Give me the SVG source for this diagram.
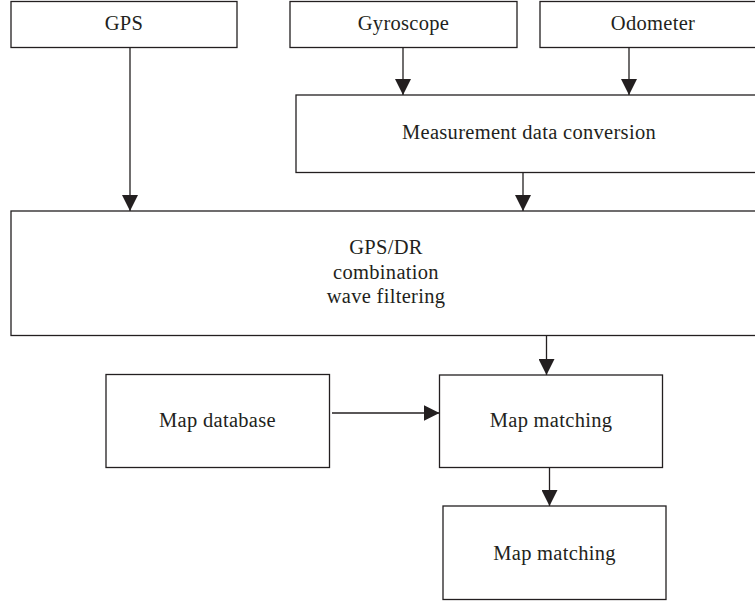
<svg xmlns="http://www.w3.org/2000/svg" width="755" height="604" viewBox="0 0 755 604">
<style>
.box{fill:#fff;stroke:#231f20;stroke-width:1.3}
.t{font-family:"Liberation Serif","Times New Roman",serif;font-size:20.5px;letter-spacing:0.3px;fill:#231f20;text-anchor:middle}
.c{stroke:#231f20;stroke-width:1.3;fill:none;marker-end:url(#ah)}
</style>
<defs>
<marker id="ah" markerUnits="userSpaceOnUse" markerWidth="16" markerHeight="16" refX="16" refY="8" orient="auto">
<path d="M0,0 L16,8 L0,16 z" fill="#231f20"/>
</marker>
</defs>
<rect width="755" height="604" fill="#fff"/>
<g id="gps"><rect class="box" x="11" y="1.5" width="226" height="46"/><text class="t" x="124" y="30">GPS</text></g>
<g id="gyroscope"><rect class="box" x="290" y="1.5" width="227" height="46"/><text class="t" x="403.5" y="30">Gyroscope</text></g>
<g id="odometer"><rect class="box" x="540" y="1.5" width="226" height="46"/><text class="t" x="653" y="30">Odometer</text></g>
<g id="conversion"><rect class="box" x="296" y="95" width="466" height="77.5"/><text class="t" x="529" y="139">Measurement data conversion</text></g>
<g id="filter"><rect class="box" x="11" y="211" width="750" height="124.5"/>
<text class="t" x="386" y="254">GPS/DR</text>
<text class="t" x="386" y="278.5">combination</text>
<text class="t" x="386" y="302.5">wave filtering</text></g>
<g id="mapdb"><rect class="box" x="106" y="374.5" width="223.5" height="93"/><text class="t" x="217.5" y="426.5">Map database</text></g>
<g id="match1"><rect class="box" x="439.5" y="375" width="223" height="92.5"/><text class="t" x="551" y="426.5">Map matching</text></g>
<g id="match2"><rect class="box" x="443" y="506" width="223" height="93.5"/><text class="t" x="554.5" y="560">Map matching</text></g>
<g id="connectors">
<line class="c" x1="130" y1="47.5" x2="130" y2="211"/>
<line class="c" x1="403" y1="47.5" x2="403" y2="95"/>
<line class="c" x1="629" y1="47.5" x2="629" y2="95"/>
<line class="c" x1="523" y1="172.5" x2="523" y2="211"/>
<line class="c" x1="546.5" y1="335.5" x2="546.5" y2="375"/>
<line class="c" x1="332" y1="413" x2="439.5" y2="413"/>
<line class="c" x1="549.5" y1="467.5" x2="549.5" y2="506"/>
</g>
</svg>
